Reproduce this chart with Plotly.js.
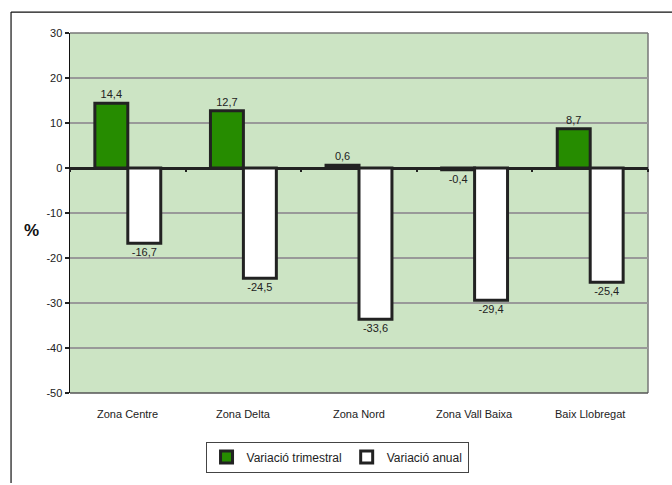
<!DOCTYPE html>
<html>
<head>
<meta charset="utf-8">
<script src="https://cdn.plot.ly/plotly-3.0.1.min.js"></script>
<style>
html,body{margin:0;padding:0;background:#fff;}
#chart{width:672px;height:485px;}
</style>
</head>
<body>
<div id="chart"></div>
<script>
const categories = ["Zona Centre", "Zona Delta", "Zona Nord", "Zona Vall Baixa", "Baix Llobregat"];
const trimestral = [14.4, 12.7, 0.6, -0.4, 8.7];
const anual = [-16.7, -24.5, -33.6, -29.4, -25.4];
const seriesNames = ["Variació trimestral", "Variació anual"];
const yTicks = [30, 20, 10, 0, -10, -20, -30, -40, -50];

const FAM = "'Liberation Sans', Arial, sans-serif";
const fmt = v => v.toFixed(1).replace('.', ',');
const labelFont = {family: FAM, size: 11, color: "#222"};

const traces = [
  {
    type: "bar", name: seriesNames[0], x: categories, y: trimestral,
    text: trimestral.map(fmt), textposition: "outside", textfont: labelFont,
    cliponaxis: false,
    marker: {color: "#268c00", line: {color: "#222", width: 3}}
  },
  {
    type: "bar", name: seriesNames[1], x: categories, y: anual,
    text: anual.map(fmt), textposition: "outside", textfont: labelFont,
    cliponaxis: false,
    marker: {color: "#ffffff", line: {color: "#222", width: 3}}
  }
];

const annotations = categories.map(c => ({
  x: c, xref: "x", y: -0.035, yref: "paper", yanchor: "top",
  text: c, showarrow: false, font: {family: FAM, size: 11, color: "#222"}
}));
annotations.push({
  x: -0.066, xref: "paper", y: 0.452, yref: "paper", xanchor: "center", yanchor: "middle",
  text: "<b>%</b>", showarrow: false, font: {family: FAM, size: 17, color: "#111"}
});

const layout = {
  width: 672, height: 485,
  margin: {l: 70, r: 24, t: 33, b: 89},
  paper_bgcolor: "#ffffff",
  plot_bgcolor: "#cce4c4",
  font: {family: FAM},
  separators: ",.",
  barmode: "group",
  bargap: 0.43,
  bargroupgap: 0,
  showlegend: true,
  legend: {
    orientation: "h", x: 0.462, xanchor: "center", y: -0.135, yanchor: "top",
    bordercolor: "#444", borderwidth: 1, bgcolor: "#fff",
    font: {family: FAM, size: 12, color: "#222"},
    itemwidth: 30, traceorder: "normal"
  },
  xaxis: {
    type: "category", anchor: "free", position: 0.625,
    showticklabels: false, ticks: "outside", ticklen: 3, tickwidth: 2, tickcolor: "#222",
    tickson: "boundaries", showgrid: false, showline: false, zeroline: false, fixedrange: true
  },
  yaxis: {
    range: [-50, 30], tickvals: yTicks, ticktext: yTicks.map(String),
    ticks: "outside", ticklen: 4, tickwidth: 2, tickcolor: "#222",
    showline: true, linecolor: "#111", linewidth: 1.5,
    showgrid: true, gridcolor: "#999", gridwidth: 2,
    zeroline: true, zerolinecolor: "#222", zerolinewidth: 3,
    tickfont: {family: FAM, size: 11, color: "#222"},
    fixedrange: true
  },
  annotations: annotations,
  shapes: [
    {type: "line", xref: "paper", yref: "paper", x0: 0, x1: 1, y0: 1, y1: 1, line: {color: "#777", width: 1.5}, layer: "below"},
    {type: "line", xref: "paper", yref: "paper", x0: 1, x1: 1, y0: 0, y1: 1, line: {color: "#777", width: 1.5}, layer: "below"},
    {type: "line", xref: "paper", yref: "paper", x0: 0, x1: 1, y0: 0, y1: 0, line: {color: "#555", width: 1.5}},
    {type: "line", xref: "paper", yref: "paper", x0: -0.102, x1: -0.102, y0: -0.25, y1: 1.058, line: {color: "#111", width: 1.2}},
    {type: "line", xref: "paper", yref: "paper", x0: -0.102, x1: 1.05, y0: 1.058, y1: 1.058, line: {color: "#111", width: 1.2}}
  ]
};

Plotly.newPlot("chart", traces, layout, {displayModeBar: false, staticPlot: true});
</script>
</body>
</html>
